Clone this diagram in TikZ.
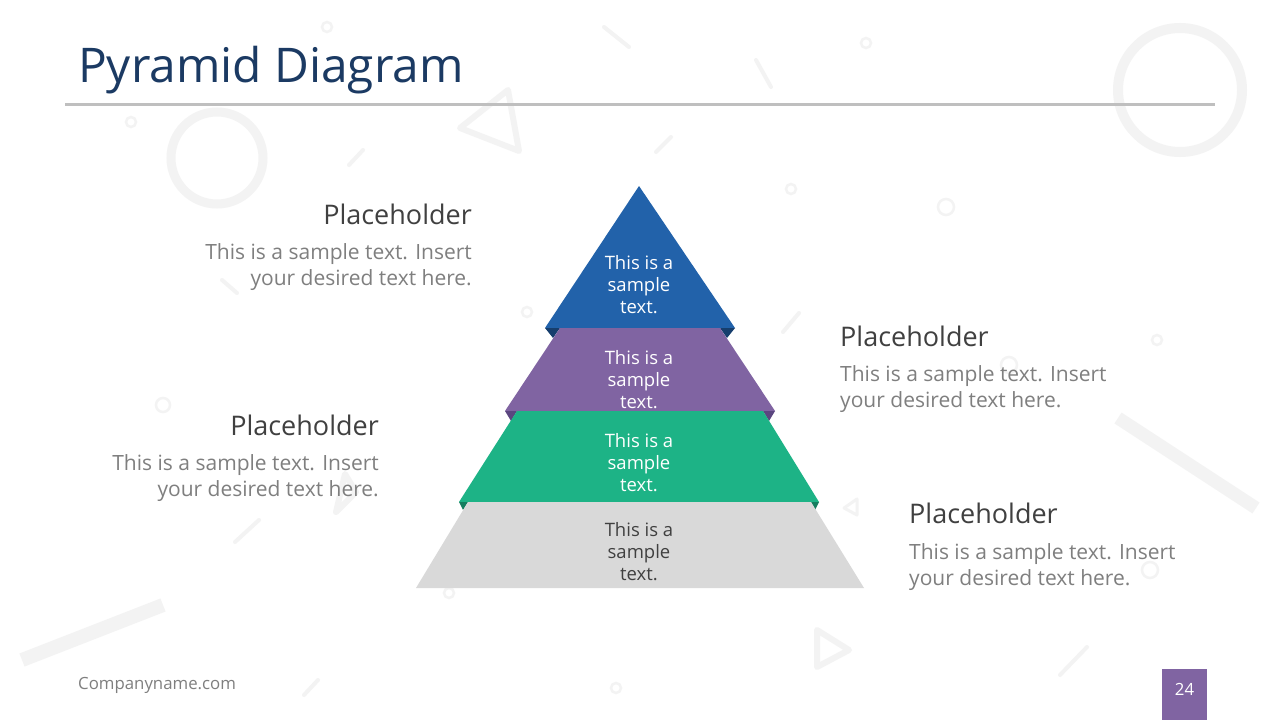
\documentclass[tikz,border=0pt]{standalone}
\usepackage{fontspec}
\setmainfont{Open Sans}
\definecolor{navy}{HTML}{1B3A63}
\definecolor{ink}{HTML}{404040}
\definecolor{muted}{HTML}{7F7F7F}
\definecolor{rulec}{HTML}{BFBFBF}
\definecolor{deco}{HTML}{F3F3F3}
\definecolor{lvla}{HTML}{2262AA}
\definecolor{lvlad}{HTML}{163E6D}
\definecolor{lvlb}{HTML}{8064A2}
\definecolor{lvlbd}{HTML}{5B4680}
\definecolor{lvlc}{HTML}{1DB386}
\definecolor{lvlcd}{HTML}{157E5F}
\definecolor{lvld}{HTML}{D9D9D9}
\tikzset{
  ttl/.style={font=\fontsize{47.8}{56}\selectfont,text=navy,inner sep=0pt},
  head/.style={font=\fontsize{27}{30}\selectfont,text=ink,inner sep=0pt},
  body/.style={font=\fontsize{21}{26}\selectfont,text=muted,inner sep=0pt},
  bodyl/.style={body,align=left},
  bodyr/.style={body,align=right},
  lvl/.style={font=\fontsize{18.5}{22}\selectfont,align=center,text=white,inner sep=0pt},
  foot/.style={font=\fontsize{16.8}{20}\selectfont,text=muted,inner sep=0pt},
  ring/.style={draw=deco,line width=2.5pt},
  scratch/.style={draw=deco,line width=4pt,line cap=round},
  tri/.style={draw=deco,line width=6pt,line join=round},
}
\begin{document}
\begin{tikzpicture}[x=1pt,y=-1pt]
  \useasboundingbox[fill=white] (0,0) rectangle (1280,720);
  % ── faint background marks ──
  \foreach \cx/\cy/\r in {327/27/5,131/122/5,527/312/5,866/43/5,791/189/5,946/207/8,1157/340/5,163/405/7,449/593/5,616/688/5,1150/570/8,1009/365/8}
    \draw[ring] (\cx,\cy) circle[radius=\r pt];
  \draw[ring,line width=10pt] (1180,90) circle[radius=62pt];
  \draw[ring,line width=9pt] (217,158) circle[radius=46pt];
  \foreach \ax/\ay/\bx/\by in {604/27/629/47,349/165/363/150,222/280/237/293,756/60/771/87,656/152/671/137,783/332/799/313,235/542/259/520,304/695/318/680,1060/675/1087/647}
    \draw[scratch] (\ax,\ay) -- (\bx,\by);
  \draw[scratch,line width=14pt,line cap=butt] (22,660) -- (163,605);
  \draw[scratch,line width=13pt,line cap=butt] (1118,418) -- (1256,508);
  \draw[tri] (508,90) -- (460,128) -- (519,151) -- cycle;
  \draw[tri] (345,474) -- (356,492) -- (336,512) -- cycle;
  \draw[tri,line width=3pt] (857,499) -- (844,508) -- (857,515) -- cycle;
  \draw[tri] (817,630) -- (849,650) -- (817,667) -- cycle;
  % ── header and footer ──
  \node[ttl,anchor=base west] (title) at (78,82) {Pyramid Diagram};
  \draw[rulec,line width=3pt] (65,104) -- (1215,104);
  \node[foot,anchor=base west] (site) at (78,689) {Companyname.com};
  \fill[lvlb] (1162,669) rectangle (1207,720);
  \node[foot,text=white,anchor=base] (page) at (1184.5,695) {24};
  % ── pyramid ──
  \fill[lvla] (639,186) -- (735,328) -- (545,328) -- cycle;
  \fill[lvlad] (545,328) -- (560,328) -- (553,338) -- cycle; \fill[lvlad] (735,328) -- (720,328) -- (727,338) -- cycle;
  \fill[lvlb] (560,328) -- (720,328) -- (775,411) -- (505,411) -- cycle;
  \fill[lvlbd] (505,411) -- (517,411) -- (511,421) -- cycle; \fill[lvlbd] (775,411) -- (763,411) -- (769,421) -- cycle;
  \fill[lvlc] (517,411) -- (763,411) -- (819,502) -- (459,502) -- cycle;
  \fill[lvlcd] (459,502) -- (468,502) -- (463,510) -- cycle; \fill[lvlcd] (819,502) -- (811,502) -- (815,510) -- cycle;
  \fill[lvld] (468,502) -- (811,502) -- (864,588) -- (416,588) -- cycle;
  \node[lvl] (ta) at (639,285) {This is a\\sample\\text.};
  \node[lvl] (tb) at (639,380) {This is a\\sample\\text.};
  \node[lvl] (tc) at (639,463) {This is a\\sample\\text.};
  \node[lvl,text=ink] (td) at (639,552) {This is a\\sample\\text.};
  % ── side texts ──
  \node[head,anchor=base east] (ha) at (472,224) {Placeholder};
  \node[bodyr,anchor=base east] (ba) at (472,285) {This is a sample text. Insert\\your desired text here.};
  \node[head,anchor=base west] (hb) at (840,346) {Placeholder};
  \node[bodyl,anchor=base west] (bb) at (840,407) {This is a sample text. Insert\\your desired text here.};
  \node[head,anchor=base east] (hc) at (379,435) {Placeholder};
  \node[bodyr,anchor=base east] (bc) at (379,496) {This is a sample text. Insert\\your desired text here.};
  \node[head,anchor=base west] (hd) at (909,523) {Placeholder};
  \node[bodyl,anchor=base west] (bd) at (909,585) {This is a sample text. Insert\\your desired text here.};
\end{tikzpicture}
\end{document}
